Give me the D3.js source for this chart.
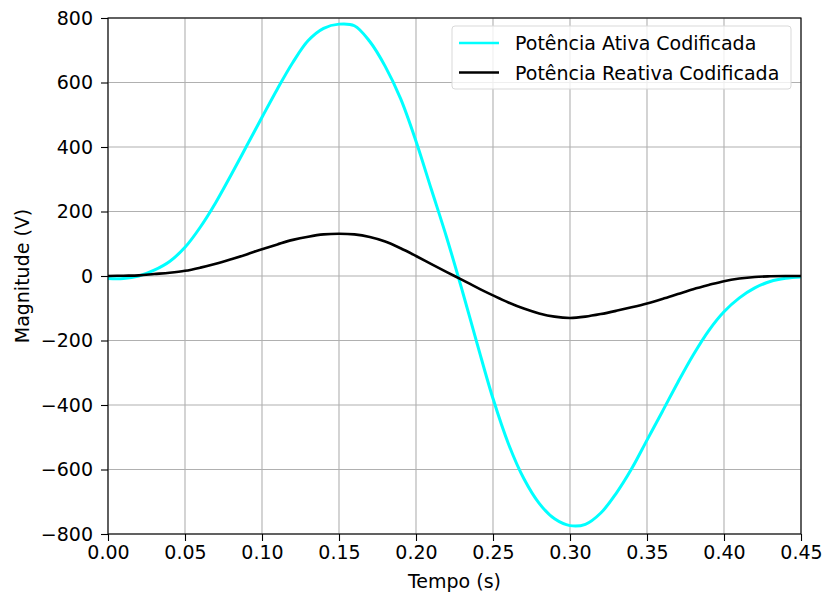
<!DOCTYPE html>
<html><head><meta charset="utf-8">
<script src="https://cdn.jsdelivr.net/npm/d3@7"></script>
<style>body{margin:0;background:#fff;} text{font-family:"DejaVu Sans",sans-serif;}</style>
</head><body>
<svg id="c" width="823" height="597"></svg>
<script>
const timeS = [0, 0.01, 0.02, 0.03, 0.04, 0.05, 0.06, 0.07, 0.08, 0.09, 0.10, 0.11, 0.12, 0.13, 0.14, 0.15, 0.16, 0.17, 0.18, 0.19, 0.20, 0.21, 0.22, 0.23, 0.24, 0.25, 0.26, 0.27, 0.28, 0.29, 0.30, 0.31, 0.32, 0.33, 0.34, 0.35, 0.36, 0.37, 0.38, 0.39, 0.40, 0.41, 0.42, 0.43, 0.44, 0.45];
const activeV = [-8, -8, 0, 18, 45, 89, 152, 228, 314, 403, 492, 580, 662, 730, 768, 781, 776, 727, 650, 550, 418, 268, 118, -45, -215, -380, -520, -628, -705, -753, -774, -770, -735, -674, -598, -509, -420, -330, -245, -170, -111, -68, -37, -17, -7, -3];
const reactV = [0, 1, 2, 6, 10, 16, 26, 38, 52, 67, 83, 98, 112, 122, 129, 131, 129, 121, 107, 86, 62, 37, 12, -12, -37, -60, -82, -101, -116, -126, -130, -126, -118, -108, -97, -85, -71, -56, -41, -28, -16, -8, -3, -1, 0, 0];
const xTicks = [0, 0.05, 0.10, 0.15, 0.20, 0.25, 0.30, 0.35, 0.40, 0.45];
const yTicks = [-800, -600, -400, -200, 0, 200, 400, 600, 800];
const seriesNames = ["Potência Ativa Codificada", "Potência Reativa Codificada"];
const seriesColors = ["#00ffff", "#000000"];

const svg = d3.select("#c");
const L = 108, R = 801, T = 18, B = 534;
const x = d3.scaleLinear().domain([0, 0.45]).range([L, R]);
const y = d3.scaleLinear().domain([-800, 800]).range([B, T]);
const fs = 19;

// grid
svg.append("g").selectAll("line").data(xTicks).join("line")
  .attr("x1", d => x(d)).attr("x2", d => x(d)).attr("y1", T).attr("y2", B)
  .attr("stroke", "#b0b0b0").attr("stroke-width", 1.1);
svg.append("g").selectAll("line").data(yTicks).join("line")
  .attr("y1", d => y(d)).attr("y2", d => y(d)).attr("x1", L).attr("x2", R)
  .attr("stroke", "#b0b0b0").attr("stroke-width", 1.1);

const fmtY = d => (d < 0 ? "\u2212" + Math.abs(d) : String(d));
const xAxis = d3.axisBottom(x).tickValues(xTicks).tickFormat(d3.format(".2f")).tickSizeOuter(0).tickSize(7).tickPadding(5);
const yAxis = d3.axisLeft(y).tickValues(yTicks).tickFormat(fmtY).tickSizeOuter(0).tickSize(7).tickPadding(8);
const gx = svg.append("g").attr("transform", `translate(0,${B})`).call(xAxis);
const gy = svg.append("g").attr("transform", `translate(${L},0)`).call(yAxis);
[gx, gy].forEach(g => {
  g.select(".domain").remove();
  g.selectAll("line").attr("stroke", "#000").attr("stroke-width", 1.1);
  g.selectAll("text").attr("font-size", fs).attr("fill", "#000").style("font-family", "DejaVu Sans");
});

const line = d3.line().x(d => x(d[0])).y(d => y(d[1])).curve(d3.curveCatmullRom.alpha(0.5));
svg.append("path").datum(timeS.map((t, i) => [t, activeV[i]]))
  .attr("d", line).attr("fill", "none").attr("stroke", seriesColors[0]).attr("stroke-width", 3);
svg.append("path").datum(timeS.map((t, i) => [t, reactV[i]]))
  .attr("d", line).attr("fill", "none").attr("stroke", seriesColors[1]).attr("stroke-width", 2.6);

// frame
svg.append("rect").attr("x", L).attr("y", T).attr("width", R - L).attr("height", B - T)
  .attr("fill", "none").attr("stroke", "#000").attr("stroke-width", 1.1);

// axis labels
svg.append("text").attr("x", (L + R) / 2).attr("y", 588).attr("text-anchor", "middle")
  .attr("font-size", fs).text("Tempo (s)");
svg.append("text").attr("transform", `translate(29,${(T + B) / 2}) rotate(-90)`).attr("text-anchor", "middle")
  .attr("font-size", fs).text("Magnitude (V)");

// legend
const lg = svg.append("g");
lg.append("rect").attr("x", 452).attr("y", 26).attr("width", 339).attr("height", 63).attr("rx", 3)
  .attr("fill", "#fff").attr("fill-opacity", 0.8).attr("stroke", "#d9d9d9").attr("stroke-width", 1);
seriesNames.forEach((n, i) => {
  const yy = 43 + i * 29.5;
  lg.append("line").attr("x1", 459).attr("x2", 499).attr("y1", yy).attr("y2", yy)
    .attr("stroke", seriesColors[i]).attr("stroke-width", 2.6);
  lg.append("text").attr("x", 515).attr("y", yy + 7).attr("font-size", fs).text(n);
});
</script>
</body></html>
